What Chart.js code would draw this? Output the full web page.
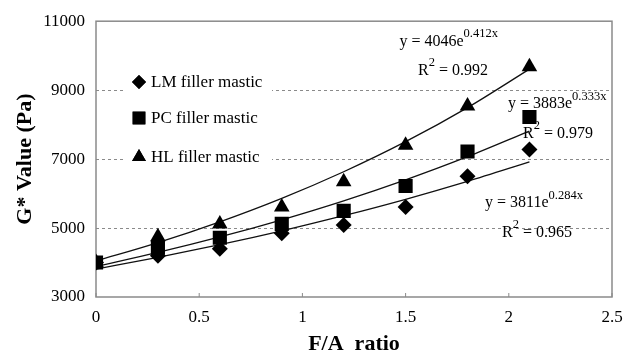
<!DOCTYPE html>
<html>
<head>
<meta charset="utf-8">
<script src="https://cdn.jsdelivr.net/npm/chart.js@4.4.0/dist/chart.umd.min.js"></script>
<style>
  body { margin: 0; background: #fff; }
  canvas { display: block; }
</style>
</head>
<body>
<canvas id="gChart" width="635" height="355"></canvas>
<script>
const faRatio = [0, 0.3, 0.6, 0.9, 1.2, 1.5, 1.8, 2.1];
const lmValues = [4000, 4200, 4400, 4850, 5090, 5610, 6500, 7280];
const pcValues = [4000, 4430, 4720, 5120, 5500, 6220, 7220, 8220];
const hlValues = [4000, 4750, 5120, 5610, 6340, 7400, 8540, 9680];
// fitted exponential curves, read at the same F/A ratios
const lmTrend = [3811, 4150, 4519, 4921, 5359, 5835, 6354, 6919];
const pcTrend = [3883, 4291, 4742, 5240, 5790, 6399, 7071, 7814];
const hlTrend = [4046, 4578, 5181, 5862, 6634, 7506, 8494, 9611];
const seriesNames = ['LM filler mastic', 'PC filler mastic', 'HL filler mastic'];
const fitCoef = ['3811', '3883', '4046'];
const fitExp = ['0.284x', '0.333x', '0.412x'];
const fitR2 = ['0.965', '0.979', '0.992'];

const SERIF = '"Liberation Serif", "Times New Roman", serif';

function pts(ys) {
  return faRatio.map((x, i) => ({ x: x, y: ys[i] }));
}

function markerSet(label, ys, style, radius) {
  return {
    label: label, data: pts(ys), showLine: false, order: 0,
    pointStyle: style, pointRadius: radius, pointHoverRadius: radius,
    backgroundColor: '#000', borderColor: '#000', borderWidth: 0
  };
}

function trendSet(ys) {
  return {
    label: 'trend', data: pts(ys), showLine: true, order: 1,
    pointRadius: 0, borderColor: '#111', borderWidth: 1.3,
    cubicInterpolationMode: 'monotone', fill: false
  };
}

// where the fit labels sit, in data units (left edge of text)
const eqPlaces = [
  { eq: { x: 1.885, y: 5720 }, r2: { x: 1.967, y: 4860 } },
  { eq: { x: 1.996, y: 8590 }, r2: { x: 2.069, y: 7730 } },
  { eq: { x: 1.470, y: 10400 }, r2: { x: 1.560, y: 9560 } }
];

function drawSup(ctx, x, y, base, sup) {
  ctx.font = '16px ' + SERIF;
  ctx.fillText(base, x, y);
  const w = ctx.measureText(base).width;
  ctx.font = '12.5px ' + SERIF;
  ctx.fillText(sup, x + w, y - 8);
  return w + ctx.measureText(sup).width;
}

const framePlugin = {
  id: 'frame',
  beforeDatasetsDraw(chart) {
    const { ctx, chartArea: a, scales } = chart;
    ctx.save();
    ctx.strokeStyle = '#8a8a8a';
    ctx.lineWidth = 1.5;
    ctx.strokeRect(a.left, a.top, a.right - a.left, a.bottom - a.top);
    // small inward tick marks on the x axis
    ctx.lineWidth = 1;
    scales.x.ticks.forEach(t => {
      const px = scales.x.getPixelForValue(t.value);
      ctx.beginPath();
      ctx.moveTo(px, a.bottom);
      ctx.lineTo(px, a.bottom - 4);
      ctx.stroke();
    });
    ctx.restore();
  },
  afterDatasetsDraw(chart) {
    const { ctx, scales } = chart;
    ctx.save();
    // legend inside plot
    ctx.fillStyle = '#fff';
    ctx.fillRect(124, 66, 148, 106);
    const rows = [82, 118, 157];
    chart.data.datasets.filter(d => d.label !== 'trend').forEach((d, i) => {
      ctx.fillStyle = '#000';
      ctx.strokeStyle = '#000';
      Chart.helpers.drawPoint(ctx, { pointStyle: d.pointStyle, radius: d.pointRadius - 1, borderWidth: 0 }, 139, rows[i]);
      ctx.fill();
      ctx.font = '17px ' + SERIF;
      ctx.textBaseline = 'middle';
      ctx.textAlign = 'left';
      ctx.fillText(d.label, 151, rows[i] + 1);
    });
    // fit equations
    ctx.fillStyle = '#000';
    ctx.textBaseline = 'middle';
    eqPlaces.forEach((p, i) => {
      let x = scales.x.getPixelForValue(p.eq.x);
      let y = scales.y.getPixelForValue(p.eq.y);
      drawSup(ctx, x, y, 'y = ' + fitCoef[i] + 'e', fitExp[i]);
      x = scales.x.getPixelForValue(p.r2.x);
      y = scales.y.getPixelForValue(p.r2.y);
      const w = drawSup(ctx, x, y, 'R', '2');
      ctx.font = '16px ' + SERIF;
      ctx.fillText(' = ' + fitR2[i], x + w, y);
    });
    ctx.restore();
  }
};

const ctx = document.getElementById('gChart').getContext('2d');
new Chart(ctx, {
  type: 'scatter',
  data: {
    datasets: [
      markerSet(seriesNames[0], lmValues, 'rectRot', 8),
      markerSet(seriesNames[1], pcValues, 'rect', 10),
      markerSet(seriesNames[2], hlValues, 'triangle', 9),
      trendSet(lmTrend),
      trendSet(pcTrend),
      trendSet(hlTrend)
    ]
  },
  options: {
    responsive: false,
    animation: false,
    layout: { padding: { top: 18, right: 23, left: 0, bottom: 0 } },
    plugins: { legend: { display: false }, tooltip: { enabled: false } },
    scales: {
      x: {
        type: 'linear', min: 0, max: 2.5,
        afterFit(scale) { scale.height = 58; },
        grid: { display: false, drawTicks: false },
        border: { display: false },
        ticks: {
          stepSize: 0.5, padding: 10, color: '#000',
          font: { family: SERIF, size: 17 },
          callback: v => String(v)
        },
        title: {
          display: true, text: 'F/A  ratio', color: '#000',
          font: { family: SERIF, size: 22, weight: 'bold', lineHeight: 1 },
          padding: { top: 0, bottom: 0 }
        }
      },
      y: {
        min: 3000, max: 11000,
        afterFit(scale) { scale.width = 96; },
        grid: {
          drawTicks: false, lineWidth: 1,
          color: c => (c.tick && c.tick.value > 3000 && c.tick.value < 11000) ? '#8a8a8a' : 'rgba(0,0,0,0)'
        },
        border: { display: false, dash: [3, 3] },
        ticks: {
          stepSize: 2000, padding: 11, color: '#000',
          font: { family: SERIF, size: 17 },
          callback: v => String(v)
        },
        title: {
          display: true, text: 'G* Value (Pa)', color: '#000',
          font: { family: SERIF, size: 22, weight: 'bold' },
          padding: { top: 12, bottom: 0 }
        }
      }
    }
  },
  plugins: [framePlugin]
});
</script>
</body>
</html>
